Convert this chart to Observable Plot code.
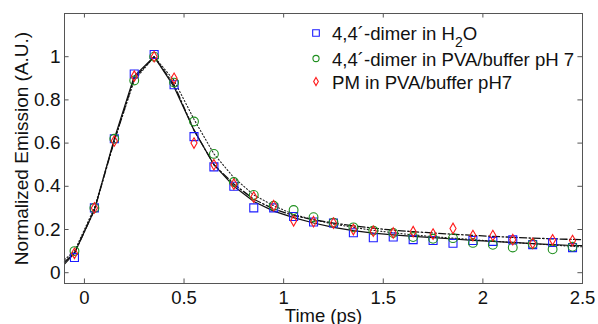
<!DOCTYPE html>
<html><head><meta charset="utf-8">
<script src="https://cdn.jsdelivr.net/npm/d3@7"></script>
<script src="https://cdn.jsdelivr.net/npm/@observablehq/plot@0.6"></script>
<style>
body{margin:0;background:#fff;}
#wrap{position:relative;width:598px;height:324px;font-family:"Liberation Sans",Arial,sans-serif;}
#legend{position:absolute;left:0;top:0;pointer-events:none;}
</style></head><body><div id="wrap"></div>
<script>
const times = [-0.05,0.05,0.15,0.25,0.35,0.45,0.55,0.65,0.75,0.85,0.95,1.05,1.15,1.25,1.35,1.45,1.55,1.65,1.75,1.85,1.95,2.05,2.15,2.25,2.35,2.45];
const h2o = [0.07,0.30,0.62,0.92,1.01,0.87,0.63,0.49,0.40,0.30,0.30,0.26,0.235,0.23,0.185,0.162,0.165,0.153,0.149,0.136,0.149,0.145,0.152,0.13,0.14,0.116];
const pva = [0.10,0.30,0.62,0.89,1.00,0.88,0.70,0.55,0.42,0.36,0.31,0.29,0.257,0.232,0.21,0.195,0.184,0.165,0.157,0.16,0.138,0.129,0.117,0.133,0.108,0.12];
const pm  = [0.09,0.30,0.61,0.91,1.00,0.90,0.60,0.50,0.41,0.35,0.31,0.24,0.236,0.23,0.20,0.192,0.184,0.19,0.179,0.205,0.172,0.172,0.153,0.136,0.152,0.149];
const fitTimes = [-0.1,-0.05,0.05,0.15,0.25,0.35,0.45,0.55,0.65,0.75,0.85,0.95,1.05,1.15,1.25,1.35,1.45,1.55,1.65,1.75,1.85,1.95,2.05,2.15,2.25,2.35,2.45,2.5];
const fitH2O = [0.04,0.09,0.29,0.62,0.91,1.0,0.86,0.66,0.50,0.40,0.33,0.285,0.255,0.23,0.21,0.195,0.183,0.175,0.168,0.162,0.156,0.15,0.145,0.14,0.135,0.13,0.126,0.125];
const fitPVA = [0.06,0.10,0.30,0.61,0.89,1.0,0.89,0.71,0.55,0.44,0.36,0.31,0.27,0.245,0.225,0.21,0.196,0.185,0.175,0.167,0.16,0.153,0.146,0.14,0.134,0.128,0.122,0.12];
const fitPM  = [0.05,0.09,0.29,0.61,0.90,1.0,0.87,0.66,0.50,0.41,0.34,0.295,0.265,0.245,0.23,0.217,0.206,0.197,0.19,0.184,0.178,0.173,0.168,0.164,0.16,0.157,0.154,0.153];
const xTicks = [0,0.5,1,1.5,2,2.5];
const yTicks = [0,0.2,0.4,0.6,0.8,1];
const xDomain = [-0.1,2.5];
const yDomain = [-0.05,1.2];
const colors = ["#1c1cff","#1f8f1f","#ff1a1a"];
const legendNames = [["4,4´-dimer in H","2","O"],["4,4´-dimer in PVA/buffer pH 7"],["PM in PVA/buffer pH7"]];

const pts = (ys)=>times.map((t,i)=>({t,v:ys[i]}));
const fit = (ys)=>fitTimes.map((t,i)=>({t,v:ys[i]}));
const frameColor = "#555";
const tx = 0.023, ty = 0.021;
const font = "'Liberation Sans', Arial, sans-serif";

const plot = Plot.plot({
  width:598, height:324,
  marginLeft:64, marginTop:13, marginRight:16, marginBottom:41,
  style:{fontFamily:font, fontSize:"19px", color:"#111", background:"#fff"},
  x:{domain:xDomain},
  y:{domain:yDomain},
  marks:[
    Plot.axisX({ticks:xTicks, tickSize:0, tickPadding:7, tickFormat:d=>String(d), label:null, fontSize:18.5}),
    Plot.axisX({ticks:[], tickSize:0, label:"Time (ps)", labelAnchor:"center", labelArrow:"none", labelOffset:38, fontSize:18.5}),
    Plot.axisY({ticks:yTicks, tickSize:0, tickPadding:4, tickFormat:d=>String(d), label:"Normalized Emission (A.U.)", labelAnchor:"center", labelArrow:"none", labelOffset:50, fontSize:19}),
    Plot.ruleX(xTicks,{x:d=>d, y1:yDomain[0], y2:yDomain[0]+ty, stroke:frameColor}),
    Plot.ruleX(xTicks,{x:d=>d, y1:yDomain[1]-ty, y2:yDomain[1], stroke:frameColor}),
    Plot.ruleY(yTicks,{y:d=>d, x1:xDomain[0], x2:xDomain[0]+tx, stroke:frameColor}),
    Plot.ruleY(yTicks,{y:d=>d, x1:xDomain[1]-tx, x2:xDomain[1], stroke:frameColor}),
    Plot.line(fit(fitPVA),{x:"t",y:"v",stroke:"#222",strokeWidth:1.1,strokeDasharray:"1.2,2.2"}),
    Plot.line(fit(fitPM),{x:"t",y:"v",stroke:"#111",strokeWidth:1.3,strokeDasharray:"7,2.5,1.5,2.5"}),
    Plot.line(fit(fitH2O),{x:"t",y:"v",stroke:"#111",strokeWidth:1.2}),
    Plot.dot(pts(h2o),{x:"t",y:"v",symbol:"square",r:4.5,stroke:colors[0],fill:"none",strokeWidth:1.1}),
    Plot.dot(pts(pva),{x:"t",y:"v",symbol:"circle",r:4.4,stroke:colors[1],fill:"none",strokeWidth:1.1}),
    Plot.dot(pts(pm),{x:"t",y:"v",symbol:"diamond",r:3.2,stroke:colors[2],fill:"none",strokeWidth:1.1}),
    Plot.frame({stroke:frameColor})
  ]
});
const wrap = document.getElementById("wrap");
wrap.appendChild(plot);

// legend overlay
const symbols = [d3.symbolSquare, d3.symbolCircle, d3.symbolDiamond];
const sizes = [44, 30, 19];
const markY = [33, 58.5, 81.5];
const baseY = [40, 66, 89];
const svg = d3.select(wrap).append("svg").attr("id","legend").attr("width",598).attr("height",324);
legendNames.forEach((n,i)=>{
  svg.append("path").attr("d",d3.symbol(symbols[i],sizes[i])()).attr("transform",`translate(316,${markY[i]})`)
    .attr("fill","none").attr("stroke",colors[i]).attr("stroke-width",1.1);
  const t = svg.append("text").attr("x",332).attr("y",baseY[i]).attr("font-size",18.6).attr("fill","#111")
    .attr("font-family",font);
  t.append("tspan").text(n[0]);
  if(n.length>1){
    t.append("tspan").attr("dy",7).attr("font-size",14).text(n[1]);
    t.append("tspan").attr("dy",-7).text(n[2]);
  }
});
</script></body></html>
